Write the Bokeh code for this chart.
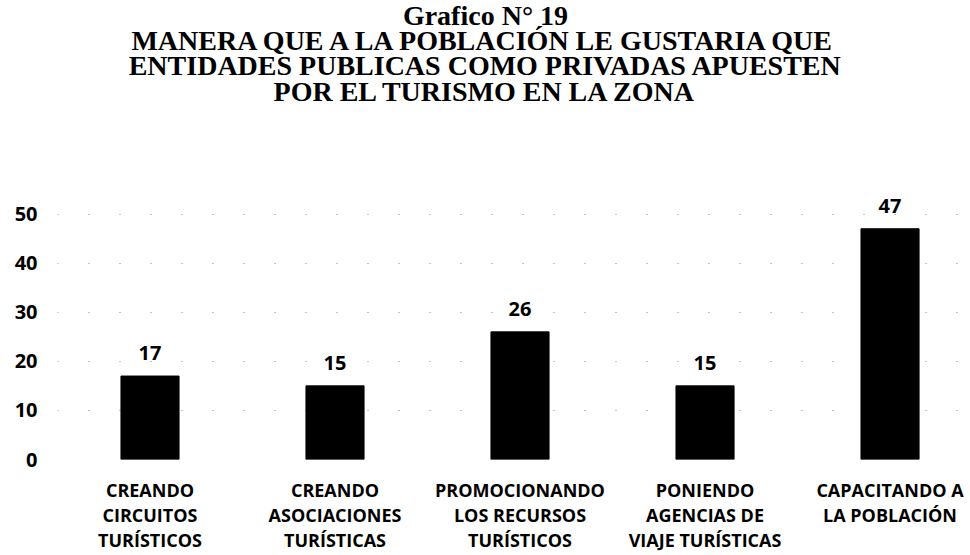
from bokeh.plotting import figure
from bokeh.models import (ColumnDataSource, Range1d, FixedTicker, LabelSet, Label)
from bokeh.layouts import column
from bokeh.core.properties import value
from bokeh.embed import file_html
from bokeh.resources import INLINE

# ---- data ----
categories = [
    "CREANDO\nCIRCUITOS\nTURÍSTICOS",
    "CREANDO\nASOCIACIONES\nTURÍSTICAS",
    "PROMOCIONANDO\nLOS RECURSOS\nTURÍSTICOS",
    "PONIENDO\nAGENCIAS DE\nVIAJE TURÍSTICAS",
    "CAPACITANDO A\nLA POBLACIÓN",
]
values = [17, 15, 26, 15, 47]
y_ticks = [0, 10, 20, 30, 40, 50]
title_lines = [
    "Grafico N° 19",
    "MANERA QUE A LA POBLACIÓN LE GUSTARIA QUE",
    "ENTIDADES PUBLICAS COMO PRIVADAS APUESTEN",
    "POR EL TURISMO EN LA ZONA",
]

positions = list(range(len(categories)))
src = ColumnDataSource(dict(x=positions, top=values, label=[str(v) for v in values]))

# ---- title strip (its frame spans the full page width) ----
pt = figure(width=970, height=118, output_backend="svg", toolbar_location=None,
            x_range=Range1d(0, 1), y_range=Range1d(0, 1),
            min_border_left=0, min_border_right=0, min_border_top=0, min_border_bottom=0,
            title=None)
pt.frame_align = False
pt.axis.visible = False
pt.grid.visible = False
pt.outline_line_color = None
pt.add_layout(Label(x=0.5, y=1, y_offset=1, text="\n".join(title_lines),
                    text_align="center", text_baseline="top",
                    text_font="Liberation Serif", text_font_size="28px",
                    text_font_style="bold", text_color="black", text_line_height=0.82))

# ---- main chart ----
p = figure(width=970, height=437, output_backend="svg", toolbar_location=None,
           x_range=Range1d(-0.5, 4.435), y_range=Range1d(0, 55),
           min_border_left=57, min_border_right=0, min_border_bottom=0,
           min_border_top=71, title=None)
p.frame_align = False
p.outline_line_color = None
p.background_fill_color = "white"
p.border_fill_color = "white"

p.vbar(x="x", top="top", width=0.314, source=src, fill_color="black", line_color="black")

labels = LabelSet(x="x", y="top", text="label", source=src, text_align="center",
                  text_baseline="bottom", y_offset=16, text_font=value("Open Sans"),
                  text_font_size="20px", text_font_style="bold", text_color="black")
p.add_layout(labels)

p.yaxis.ticker = FixedTicker(ticks=y_ticks)
p.yaxis.axis_line_color = None
p.yaxis.major_tick_line_color = None
p.yaxis.minor_tick_line_color = None
p.yaxis.major_label_standoff = 14
p.yaxis.major_label_text_font = "Open Sans"
p.yaxis.major_label_text_font_size = "20px"
p.yaxis.major_label_text_font_style = "bold"
p.yaxis.major_label_text_color = "black"

p.xaxis.ticker = FixedTicker(ticks=positions)
p.xaxis.major_label_overrides = {i: c for i, c in zip(positions, categories)}
p.xaxis.axis_line_color = None
p.xaxis.major_tick_line_color = None
p.xaxis.minor_tick_line_color = None
p.xaxis.major_label_standoff = 12
p.xaxis.major_label_text_font = "Open Sans"
p.xaxis.major_label_text_font_size = "18px"
p.xaxis.major_label_text_font_style = "bold"
p.xaxis.major_label_text_color = "black"
p.xaxis.major_label_text_line_height = 1.06

p.xgrid.grid_line_color = None
p.ygrid.ticker = FixedTicker(ticks=y_ticks)
p.ygrid.grid_line_color = "#8a8a8a"
p.ygrid.grid_line_dash = "1 30"
p.ygrid.grid_line_width = 1

layout = column(pt, p, spacing=0)
open("out.html", "w").write(file_html(layout, INLINE))
